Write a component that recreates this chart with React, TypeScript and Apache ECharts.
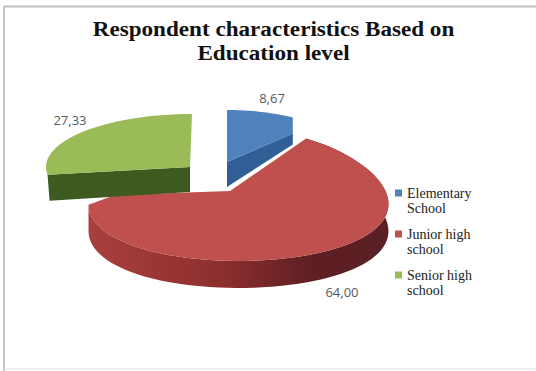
import React, { useEffect, useRef } from "react";
import * as echarts from "echarts";

const titleLines = ["Respondent characteristics Based on", "Education level"];
const categories = ["Elementary\nSchool", "Junior high\nschool", "Senior high\nschool"];
const shares = [8.67, 64.0, 27.33];

const TOP_COLORS = ["#4F81BD", "#C0504D", "#9BBB59"];
const WALL_COLORS = ["#2F5F94", "#8A2D2D", "#3F5A20"];

// Per-slice placement of the exploded wedge on the tilted pie plane.
const PLACEMENT = [
  { cx: 227, cy: 162, ax: 227, ay: 162, rx: 127, ry: 52, k: 0, rimDepth: 0, wallDrop: 25, wallEndTop: 16, wallEndBottom: 27, labelX: 272, labelY: 98 },
  { cx: 238.5, cy: 195, ax: 230, ay: 191, rx: 148.5, ry: 66, k: 0.143, rimDepth: 27, wallDrop: 0, wallEndTop: 0, wallEndBottom: 0, labelX: 342, labelY: 292 },
  { cx: 192, cy: 167, ax: 190, ay: 167, rx: 146, ry: 53, k: 0, rimDepth: 0, wallDrop: 25, wallEndTop: 0, wallEndBottom: 26, labelX: 70, labelY: 120 },
];

// The large slice's hidden edge is tucked under the green wedge's cut face.
const RED_TUCK = [115, 195];

const total = shares.reduce((a, b) => a + b, 0);

function sliceAngles(index: number) {
  const before = shares.slice(0, index).reduce((a, b) => a + b, 0);
  return [(before / total) * Math.PI * 2, ((before + shares[index]) / total) * Math.PI * 2];
}

function rimPoint(p: (typeof PLACEMENT)[number], angle: number, drop = 0) {
  const u = Math.sin(angle);
  const v = -Math.cos(angle);
  return [p.cx + p.rx * u * (1 + p.k * v), p.cy + p.ry * v + drop];
}

function arcPoints(p: (typeof PLACEMENT)[number], from: number, to: number, drop = 0) {
  const steps = Math.max(12, Math.round(((to - from) / Math.PI) * 60));
  const pts: number[][] = [];
  for (let i = 0; i <= steps; i++) {
    pts.push(rimPoint(p, from + ((to - from) * i) / steps, drop));
  }
  return pts;
}

function renderSlice(index: number) {
  return (_params: any, api: any) => {
    const value = api.value(0);
    const p = PLACEMENT[index];
    const [from, to] = sliceAngles(index);
    const top = arcPoints(p, from, to);
    const children: any[] = [];

    if (p.rimDepth > 0) {
      // Outer rim of the pie, shaded from left to right.
      const rim = top.concat(arcPoints(p, from, to, p.rimDepth).reverse());
      children.push({
        type: "polygon",
        shape: { points: rim },
        style: {
          fill: new echarts.graphic.LinearGradient(0, 0, 1, 0, [
            { offset: 0, color: "#A8403D" },
            { offset: 0.45, color: "#8C2E2E" },
            { offset: 0.75, color: "#5E1E23" },
            { offset: 1, color: "#5A2025" },
          ]),
        },
      });
    }

    if (p.wallDrop > 0) {
      // Cut face of an exploded wedge.
      const end = index === 0 ? top[top.length - 1] : top[0];
      children.push({
        type: "polygon",
        shape: {
          points: [
            [p.ax, p.ay],
            [end[0], end[1] + p.wallEndTop],
            [end[0] + (index === 2 ? 2 : 0), end[1] + p.wallEndBottom],
            [p.ax, p.ay + p.wallDrop],
          ],
        },
        style: { fill: WALL_COLORS[index] },
      });
    }

    const face = [[p.ax, p.ay]].concat(top);
    if (index === 0) {
      const end = top[top.length - 1];
      face.push([end[0], end[1] + p.wallEndTop]);
    }
    if (index === 1) {
      face.push(RED_TUCK);
    }
    children.push({
      type: "polygon",
      shape: { points: face },
      style: { fill: TOP_COLORS[index] },
    });

    children.push({
      type: "text",
      style: {
        text: value.toFixed(2).replace(".", ","),
        x: p.labelX,
        y: p.labelY,
        align: "center",
        verticalAlign: "middle",
        fill: "#595959",
        font: '13px "Open Sans"',
      },
    });

    return { type: "group", children };
  };
}

// Red is painted first so the exploded wedges overlap it.
const drawOrder = [1, 0, 2];

export default function App() {
  const ref = useRef<HTMLDivElement>(null);

  useEffect(() => {
    document.body.style.margin = "0";
    const chart = echarts.init(ref.current!, null, { renderer: "svg" });
    chart.setOption({
      animation: false,
      backgroundColor: "#FFFFFF",
      legend: {
        data: categories.map((name) => ({ name, icon: "rect" })),
        orient: "vertical",
        left: 395,
        top: 170.5,
        padding: 0,
        itemWidth: 7,
        itemHeight: 7,
        itemGap: -4,
        selectedMode: false,
        // A leading blank line puts each swatch level with the first line of its label.
        formatter: (name: string) => "\n" + name,
        textStyle: {
          fontFamily: '"Liberation Serif"',
          fontSize: 14,
          lineHeight: 15,
          color: "#222222",
        },
      },
      graphic: [
        { type: "line", shape: { x1: 4, y1: 6.5, x2: 536, y2: 6.5 }, style: { stroke: "#BDBDBD", lineWidth: 2 } },
        { type: "line", shape: { x1: 4, y1: 6, x2: 4, y2: 371 }, style: { stroke: "#C4C4C4", lineWidth: 2 } },
        { type: "line", shape: { x1: 4, y1: 369, x2: 536, y2: 369 }, style: { stroke: "#E2E2E2", lineWidth: 1 } },
        {
          type: "text",
          x: 273.5,
          y: 41.5,
          scaleX: 1.157,
          style: {
            text: titleLines.join("\n"),
            align: "center",
            verticalAlign: "middle",
            font: 'bold 20px "Liberation Serif"',
            lineHeight: 24,
            fill: "#111111",
          },
        },
      ],
      series: drawOrder.map((index) => ({
        type: "custom",
        name: categories[index],
        coordinateSystem: "none",
        itemStyle: { color: TOP_COLORS[index] },
        data: [[shares[index]]],
        renderItem: renderSlice(index),
      })),
    });
    return () => chart.dispose();
  }, []);

  return <div ref={ref} style={{ width: 536, height: 371 }} />;
}
